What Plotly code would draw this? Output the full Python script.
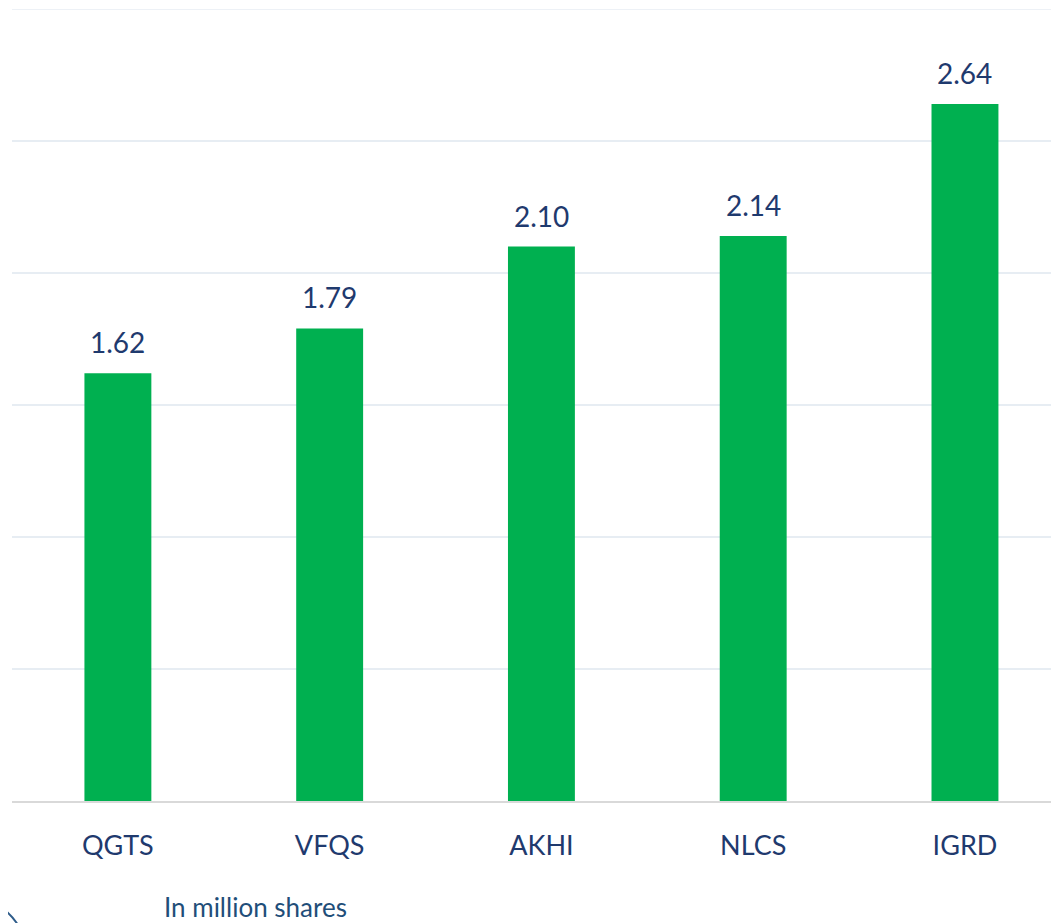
import plotly.graph_objects as go

categories = ["QGTS", "VFQS", "AKHI", "NLCS", "IGRD"]
values = [1.62, 1.79, 2.10, 2.14, 2.64]
value_labels = ["1.62", "1.79", "2.10", "2.14", "2.64"]
y_ticks = [0, 0.5, 1.0, 1.5, 2.0, 2.5, 3.0]

# page body has an 8px margin; figure is sized to fill the rest of the window
OFF = 8
W, H = 1059 - OFF, 923 - OFF
ML, MR, MT, MB = 12 - OFF, 0, 9 - OFF, 923 - 801
NAVY = "#1F3A6E"
GRID = "#E7EDF3"

fig = go.Figure()
fig.add_trace(go.Bar(
    x=categories, y=values,
    marker=dict(color="#00B050", line=dict(width=0)),
    hoverinfo="skip",
))

for c, v, t in zip(categories, values, value_labels):
    fig.add_annotation(
        x=c, y=v, text=t, showarrow=False, yanchor="bottom",
        yshift=12, font=dict(family="Lato", size=28, color=NAVY),
    )

pw, ph = W - ML - MR, H - MT - MB
def px_x(p):
    return (p - OFF - ML) / pw
def px_y(p):
    return (H - MB - (p - OFF)) / ph

# top gridline at range edge
fig.add_shape(type="line", xref="paper", yref="y", x0=0, x1=1,
              y0=y_ticks[-1], y1=y_ticks[-1], line=dict(color=GRID, width=1.5))

fig.add_annotation(
    xref="paper", yref="paper", x=px_x(162), y=px_y(907),
    text="In million shares", showarrow=False, xanchor="left", yanchor="middle",
    font=dict(family="Lato", size=26, color="#1F4E79"),
)

# rounded corner arc at bottom-left
fig.add_shape(
    type="path", xref="paper", yref="paper",
    path=f"M {px_x(-4)} {px_y(904)} Q {px_x(10)} {px_y(912)} {px_x(18)} {px_y(925)}",
    line=dict(color="#2E5C8A", width=2),
)

fig.update_layout(
    width=W, height=H,
    margin=dict(l=ML, r=MR, t=MT, b=MB, pad=0),
    paper_bgcolor="white", plot_bgcolor="white",
    bargap=0.684, showlegend=False,
    xaxis=dict(
        range=[-0.5, 4.444], showgrid=False, zeroline=False,
        showline=True, linecolor="#D9D9D9", linewidth=1.5,
        ticks="outside", ticklen=20, tickcolor="rgba(0,0,0,0)",
        tickfont=dict(family="Lato", size=27, color=NAVY),
    ),
    yaxis=dict(
        range=[0, 3], tickvals=y_ticks, showticklabels=False,
        showgrid=True, gridcolor=GRID, gridwidth=1.5,
        zeroline=False, showline=False,
    ),
)

fig.write_html("out.html")
